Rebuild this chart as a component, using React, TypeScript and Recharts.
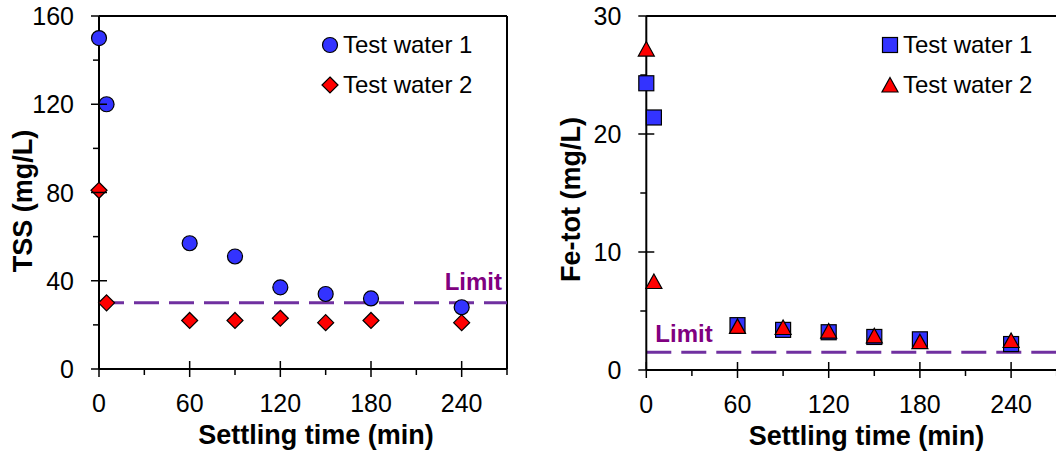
import { ScatterChart, Scatter, XAxis, YAxis, ReferenceLine, Legend } from 'recharts'

const FONT = '"Liberation Sans", Arial, sans-serif'
const BLUE = '#3333FF'
const RED = '#FF0000'
const LIMIT_LINE = '#7030A0'
const LIMIT_TEXT = '#800080'

// settling times (min)
const times = [0, 5, 60, 90, 120, 150, 180, 240]
const tssWater1 = [150, 120, 57, 51, 37, 34, 32, 28]
const tssWater2 = [81, 30, 22, 22, 23, 21, 22, 21]
const feWater1 = [24.3, 21.4, 3.8, 3.4, 3.2, 2.8, 2.6, 2.2]
const feWater2 = [27.2, 7.5, 3.7, 3.6, 3.3, 2.9, 2.4, 2.5]
const tssLimit = 30
const feLimit = 1.5

const timeTicks = [0, 30, 60, 90, 120, 150, 180, 210, 240, 270]
const tssTicks = [0, 20, 40, 60, 80, 100, 120, 140, 160]
const feTicks = [0, 5, 10, 15, 20, 25, 30]

const toPoints = (ys: number[]) => times.map((x, i) => ({ x, y: ys[i] }))

const Circle = (p: any) => (
  <circle cx={p.cx} cy={p.cy} r={7.5} fill={BLUE} stroke="#000" strokeWidth={1.2} />
)
const Diamond = (p: any) => (
  <polygon
    points={`${p.cx},${p.cy - 8} ${p.cx + 8},${p.cy} ${p.cx},${p.cy + 8} ${p.cx - 8},${p.cy}`}
    fill={RED}
    stroke="#000"
    strokeWidth={1.2}
  />
)
const Square = (p: any) => (
  <rect x={p.cx - 7.5} y={p.cy - 7.5} width={15} height={15} fill={BLUE} stroke="#000" strokeWidth={1.2} />
)
const Triangle = (p: any) => (
  <polygon
    points={`${p.cx},${p.cy - 7.5} ${p.cx + 8},${p.cy + 7} ${p.cx - 8},${p.cy + 7}`}
    fill={RED}
    stroke="#000"
    strokeWidth={1.2}
  />
)

const XTick = (p: any) => {
  const { x, y, payload } = p
  const v = payload.value
  const major = v % 60 === 0 && v <= 240
  return (
    <g>
      <line x1={x} x2={x} y1={major ? y - 8 : y} y2={y + (major ? 8 : 6)} stroke="#000" strokeWidth={1.5} />
      {major && (
        <text x={x} y={y + 43} textAnchor="middle" fontSize={25} fontFamily={FONT} fill="#000">
          {v}
        </text>
      )}
    </g>
  )
}

const makeYTick = (step: number) => (p: any) => {
  const { x, y, payload } = p
  const v = payload.value
  const major = v % step === 0
  return (
    <g>
      <line x1={major ? x - 8 : x - 6} x2={major ? x + 8 : x} y1={y} y2={y} stroke="#000" strokeWidth={1.5} />
      {major && (
        <text x={x - 25} y={y + 9} textAnchor="end" fontSize={25} fontFamily={FONT} fill="#000">
          {v}
        </text>
      )}
    </g>
  )
}

const xTitle = (dx: number) => (lp: any) => (
  <text
    x={lp.viewBox.x + lp.viewBox.width / 2 + dx}
    y={lp.viewBox.y + 75}
    textAnchor="middle"
    fontSize={27}
    fontWeight="bold"
    fontFamily={FONT}
    fill="#000"
  >
    Settling time (min)
  </text>
)

const yTitle = (text: string, bx: number, dy: number) => (lp: any) => {
  const cy = lp.viewBox.y + lp.viewBox.height / 2 + dy
  return (
    <text
      x={bx}
      y={cy}
      transform={`rotate(-90, ${bx}, ${cy})`}
      textAnchor="middle"
      fontSize={27}
      fontWeight="bold"
      fontFamily={FONT}
      fill="#000"
    >
      {text}
    </text>
  )
}

const limitLabel = (side: 'left' | 'right', dy: number) => (lp: any) => {
  const vb = lp.viewBox
  const x = side === 'right' ? vb.x + vb.width - 5 : vb.x + 9
  return (
    <text
      x={x}
      y={vb.y + dy}
      textAnchor={side === 'right' ? 'end' : 'start'}
      fontSize={24}
      fontWeight="bold"
      fontFamily={FONT}
      fill={LIMIT_TEXT}
    >
      Limit
    </text>
  )
}

const LegendBox = ({ items }: { items: { label: string; Icon: any }[] }) => (
  <svg width={200} height={90}>
    {items.map((it, i) => (
      <g key={it.label}>
        <it.Icon cx={20} cy={25 + i * 40} />
        <text x={33} y={33 + i * 40} fontSize={24} fontFamily={FONT} fill="#000">
          {it.label}
        </text>
      </g>
    ))}
  </svg>
)

const axisLine = { stroke: '#000', strokeWidth: 2 }

const App = () => {
  return (
    <div
      style={{
        position: 'absolute',
        left: 0,
        top: 0,
        width: 1056,
        height: 454,
        overflow: 'hidden',
        background: '#fff',
      }}
    >
      <div style={{ position: 'absolute', left: 0, top: 0 }}>
        <ScatterChart width={530} height={454} margin={{ top: 16, right: 23, bottom: 0, left: 0 }}>
          <XAxis
            type="number"
            dataKey="x"
            domain={[0, 270]}
            ticks={timeTicks}
            interval={0}
            height={85}
            tickSize={0}
            tickMargin={0}
            tickLine={false}
            axisLine={axisLine}
            tick={XTick}
            label={{ content: xTitle(13) }}
          />
          <YAxis
            type="number"
            dataKey="y"
            domain={[0, 160]}
            ticks={tssTicks}
            interval={0}
            width={99}
            tickSize={0}
            tickMargin={0}
            tickLine={false}
            axisLine={axisLine}
            tick={makeYTick(40)}
            label={{ content: yTitle('TSS (mg/L)', 31.5, 8.5) }}
          />
          <ReferenceLine y={160} stroke="#000" strokeWidth={2} />
          <ReferenceLine x={270} stroke="#000" strokeWidth={2} />
          <ReferenceLine
            y={tssLimit}
            stroke={LIMIT_LINE}
            strokeWidth={3}
            strokeDasharray="25 10"
            label={{ content: limitLabel('right', -13) }}
          />
          <Legend
            layout="vertical"
            align="center"
            verticalAlign="middle"
            wrapperStyle={{ left: 310, top: 20, width: 200, height: 90 }}
            content={() => (
              <LegendBox
                items={[
                  { label: 'Test water 1', Icon: Circle },
                  { label: 'Test water 2', Icon: Diamond },
                ]}
              />
            )}
          />
          <Scatter name="Test water 1" data={toPoints(tssWater1)} shape={Circle} isAnimationActive={false} />
          <Scatter name="Test water 2" data={toPoints(tssWater2)} shape={Diamond} isAnimationActive={false} />
        </ScatterChart>
      </div>
      <div style={{ position: 'absolute', left: 530, top: 0 }}>
        <ScatterChart width={540} height={454} margin={{ top: 16, right: 13.3, bottom: 0, left: 0 }}>
          <XAxis
            type="number"
            dataKey="x"
            domain={[0, 270]}
            ticks={timeTicks}
            interval={0}
            height={84}
            tickSize={0}
            tickMargin={0}
            tickLine={false}
            axisLine={axisLine}
            tick={XTick}
            label={{ content: xTitle(15) }}
          />
          <YAxis
            type="number"
            dataKey="y"
            domain={[0, 30]}
            ticks={feTicks}
            interval={0}
            width={116.3}
            tickSize={0}
            tickMargin={0}
            tickLine={false}
            axisLine={axisLine}
            tick={makeYTick(10)}
            label={{ content: yTitle('Fe-tot (mg/L)', 50, 6.5) }}
          />
          <ReferenceLine y={30} stroke="#000" strokeWidth={2} />
          <ReferenceLine
            y={feLimit}
            stroke={LIMIT_LINE}
            strokeWidth={3}
            strokeDasharray="25 10"
            label={{ content: limitLabel('left', -10.6) }}
          />
          <Legend
            layout="vertical"
            align="center"
            verticalAlign="middle"
            wrapperStyle={{ left: 340, top: 20, width: 200, height: 90 }}
            content={() => (
              <LegendBox
                items={[
                  { label: 'Test water 1', Icon: Square },
                  { label: 'Test water 2', Icon: Triangle },
                ]}
              />
            )}
          />
          <Scatter name="Test water 1" data={toPoints(feWater1)} shape={Square} isAnimationActive={false} />
          <Scatter name="Test water 2" data={toPoints(feWater2)} shape={Triangle} isAnimationActive={false} />
        </ScatterChart>
      </div>
    </div>
  )
}

export default App
